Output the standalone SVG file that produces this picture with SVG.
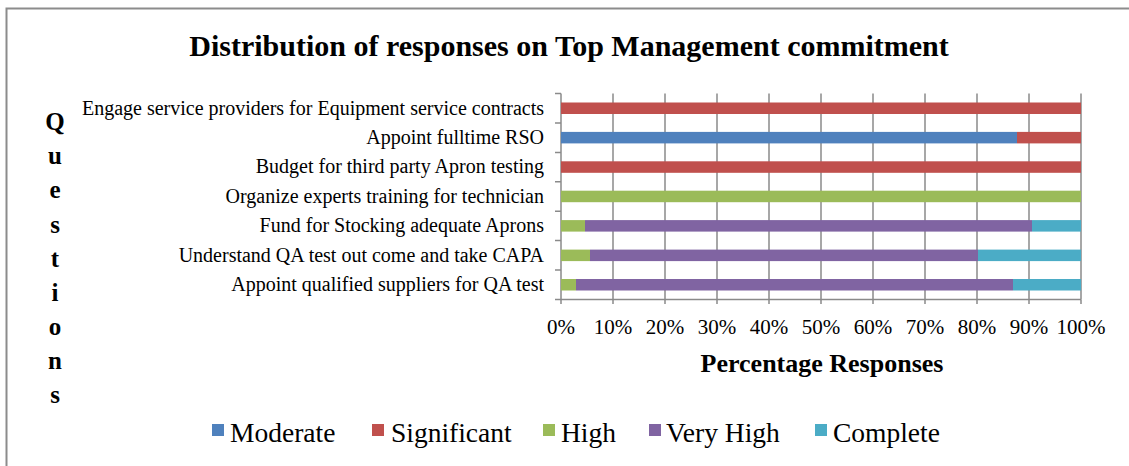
<svg xmlns="http://www.w3.org/2000/svg" width="1129" height="466" viewBox="0 0 1129 466">
<style>
text{font-family:"Liberation Serif","Times New Roman",serif;fill:#000}
.title{font-size:30px;font-weight:bold}
.cat{font-size:20px;text-anchor:end}
.tick{font-size:21px;text-anchor:middle}
.axt{font-size:26px;font-weight:bold;text-anchor:middle}
.q{font-size:25px;font-weight:bold;text-anchor:middle}
.leg{font-size:27.5px}
.grid{stroke:#8a8a8a;stroke-width:1.5;fill:none}
.mod{fill:#4F81BD}.sig{fill:#C0504D}.hi{fill:#9BBB59}.vh{fill:#8064A2}.cp{fill:#4BACC6}
</style>
<rect x="0" y="0" width="1129" height="466" fill="#fff"/>
<rect x="6.5" y="8.5" width="1140" height="480" fill="none" stroke="#8c8c8c" stroke-width="2"/>
<text class="title" x="569" y="56" text-anchor="middle">Distribution of responses on Top Management commitment</text>
<g id="axes">
<g class="grid">
<path d="M613 93.5V299.5M665 93.5V299.5M717 93.5V299.5M769 93.5V299.5M821 93.5V299.5M873 93.5V299.5M925 93.5V299.5M977 93.5V299.5M1029 93.5V299.5M1081 93.5V299.5"/>
<path d="M561 93.5V304M555 93.5H561M555 122.9H561M555 152.4H561M555 181.8H561M555 211.2H561M555 240.6H561M555 270.1H561M555 299.5H561"/>
<path d="M561 299.5H1081M613 299.5V304M665 299.5V304M717 299.5V304M769 299.5V304M821 299.5V304M873 299.5V304M925 299.5V304M977 299.5V304M1029 299.5V304M1081 299.5V304"/>
</g>
<g>
<text class="tick" x="561" y="334">0%</text>
<text class="tick" x="613" y="334">10%</text>
<text class="tick" x="665" y="334">20%</text>
<text class="tick" x="717" y="334">30%</text>
<text class="tick" x="769" y="334">40%</text>
<text class="tick" x="821" y="334">50%</text>
<text class="tick" x="873" y="334">60%</text>
<text class="tick" x="925" y="334">70%</text>
<text class="tick" x="977" y="334">80%</text>
<text class="tick" x="1029" y="334">90%</text>
<text class="tick" x="1081" y="334">100%</text>
</g>
<text class="axt" x="822" y="372">Percentage Responses</text>
<g id="ytitle">
<text class="q" x="55" y="130">Q</text>
<text class="q" x="55" y="164">u</text>
<text class="q" x="55" y="198">e</text>
<text class="q" x="55" y="233">s</text>
<text class="q" x="55" y="267">t</text>
<text class="q" x="55" y="301">i</text>
<text class="q" x="55" y="335">o</text>
<text class="q" x="55" y="369">n</text>
<text class="q" x="55" y="403">s</text>
</g>
</g>
<g id="row1"><text class="cat" x="544" y="114.5">Engage service providers for Equipment service contracts</text>
<rect class="sig" x="561" y="102.5" width="520" height="11.5"/></g>
<g id="row2"><text class="cat" x="544" y="144">Appoint fulltime RSO</text>
<rect class="mod" x="561" y="131.9" width="456" height="11.5"/><rect class="sig" x="1017" y="131.9" width="64" height="11.5"/></g>
<g id="row3"><text class="cat" x="544" y="173.4">Budget for third party Apron testing</text>
<rect class="sig" x="561" y="161.3" width="520" height="11.5"/></g>
<g id="row4"><text class="cat" x="544" y="202.8">Organize experts training for technician</text>
<rect class="hi" x="561" y="190.7" width="520" height="11.5"/></g>
<g id="row5"><text class="cat" x="544" y="232.2">Fund for Stocking adequate Aprons</text>
<rect class="hi" x="561" y="220.1" width="24" height="11.5"/><rect class="vh" x="585" y="220.1" width="447" height="11.5"/><rect class="cp" x="1032" y="220.1" width="49" height="11.5"/></g>
<g id="row6"><text class="cat" x="544" y="261.6">Understand QA test out come and take CAPA</text>
<rect class="hi" x="561" y="249.6" width="29" height="11.5"/><rect class="vh" x="590" y="249.6" width="388" height="11.5"/><rect class="cp" x="978" y="249.6" width="103" height="11.5"/></g>
<g id="row7"><text class="cat" x="544" y="291">Appoint qualified suppliers for QA test</text>
<rect class="hi" x="561" y="279" width="15" height="11.5"/><rect class="vh" x="576" y="279" width="437" height="11.5"/><rect class="cp" x="1013" y="279" width="68" height="11.5"/></g>
<g id="legend">
<rect class="mod" x="212" y="424" width="12" height="12"/><text class="leg" x="230" y="442">Moderate</text>
<rect class="sig" x="372" y="424" width="12" height="12"/><text class="leg" x="391" y="442">Significant</text>
<rect class="hi" x="543" y="424" width="12" height="12"/><text class="leg" x="561" y="442">High</text>
<rect class="vh" x="649" y="424" width="12" height="12"/><text class="leg" x="666" y="442">Very High</text>
<rect class="cp" x="815" y="424" width="12" height="12"/><text class="leg" x="833" y="442">Complete</text>
</g>
</svg>
